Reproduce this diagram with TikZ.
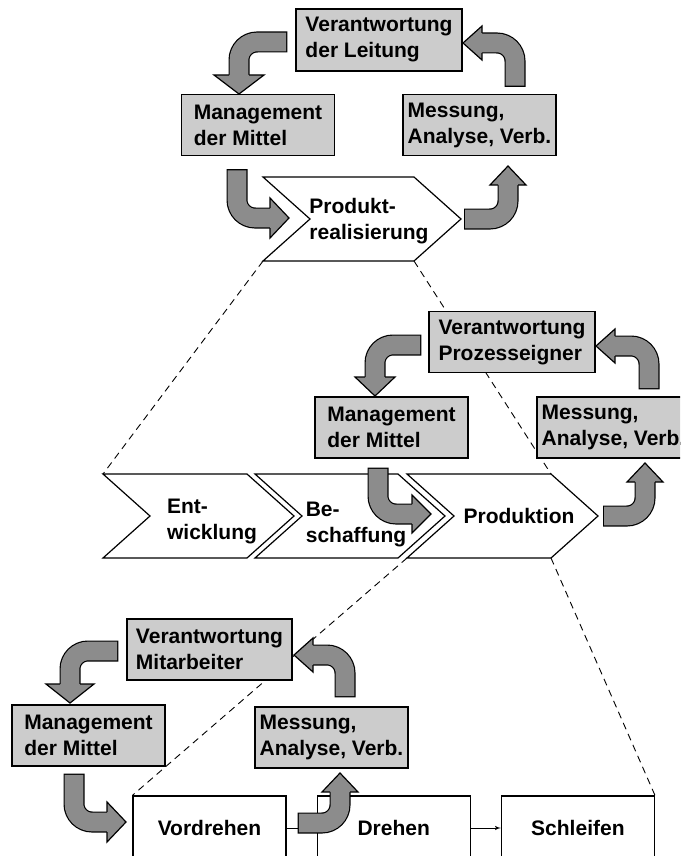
\documentclass[tikz,border=0pt]{standalone}
\usepackage{fontspec}
\setmainfont{Liberation Sans}
\usetikzlibrary{arrows}
\usetikzlibrary{positioning}
\usetikzlibrary{backgrounds}

\definecolor{boxgray}{gray}{0.8}
\definecolor{arrowgray}{gray}{0.55}

\tikzset{
  duty/.style={draw,line width=1.2pt,fill=boxgray,minimum width=153pt,minimum height=61pt,inner sep=0pt,align=left},
  work/.style={draw,line width=1.2pt,fill=white,minimum width=153pt,minimum height=64pt,inner sep=0pt},
  phase/.style={draw,line width=1.2pt,fill=white,line join=miter},
  zoomline/.style={line width=0.9pt,dash pattern=on 7pt off 5pt},
  flow/.style={draw=black,line width=21pt,rounded corners=18pt,
    postaction={draw=arrowgray,line width=18.6pt,shorten <=1.2pt}}
}

% chevron: name, left, top, width
\newcommand{\chevron}[4]{%
  \draw[phase] (#2,#3) coordinate (#1-nw) -- ++(#4,0) coordinate (#1-ne)
    -- ++(47,42) coordinate (#1-tip) -- ++(-47,42) coordinate (#1-se)
    -- ++(-#4,0) coordinate (#1-sw) -- ++(47,-42) -- cycle;}

% head of a block arrow: [half width]{base}{angle}
\newcommand{\flowhead}[3][19]{%
  \fill[arrowgray,shift={(#2)},rotate=#3] (0,-#1) -- (19,0) -- (0,#1) -- cycle;
  \draw[line width=1.2pt,shift={(#2)},rotate=#3] (0,-10) -- (0,-#1) -- (19,0) -- (0,#1) -- (0,10);}

\begin{document}
\begin{tikzpicture}[x=1pt,y=-1pt,>=latex',font=\fontsize{21}{26}\selectfont\bfseries]
  \useasboundingbox (0,0) rectangle (680,856);
  \clip (0,0) rectangle (680,856);

  % company level
  \node[duty,minimum width=166pt,minimum height=62pt] (lead) at (379,40) {Verantwortung\\der Leitung};
  \node[duty] (mgmtA) at (258,125) {Management\\der Mittel};
  \node[duty] (measA) at (479.5,125) {Messung,\\Analyse, Verb.};
  \chevron{real}{263}{177}{151}
  \node[align=left] (real) at (369,221) {Produkt-\\realisierung};

  % process level
  \node[duty,minimum width=166pt] (ownerB) at (512,342) {Verantwortung\\Prozesseigner};
  \node[duty] (mgmtB) at (391.5,427.5) {Management\\der Mittel};
  \node[duty] (measB) at (613.5,427.5) {Messung,\\Analyse, Verb.};
  \chevron{dev}{103}{474}{144}
  \chevron{buy}{255}{474}{143}
  \chevron{prod}{407}{474}{144}
  \node[align=left] (dev) at (212,521) {Ent-\\wicklung};
  \node[align=left] (buy) at (356,524) {Be-\\schaffung};
  \node (prod) at (519,516) {Produktion};

  % workplace level
  \node[duty,minimum width=165pt] (staffC) at (209.5,649.5) {Verantwortung\\Mitarbeiter};
  \node[duty] (mgmtC) at (88.5,735.5) {Management\\der Mittel};
  \node[duty] (measC) at (331.5,737.5) {Messung,\\Analyse, Verb.};
  \node[work] (vord) at (209.5,828) {Vordrehen};
  \node[work] (dreh) [right=30pt of vord] {Drehen};
  \node[work] (schl) [right=30pt of dreh] {Schleifen};
  \draw[->,line width=1pt] (vord) -- (dreh);
  \draw[->,line width=1pt] (dreh) -- (schl);

  \begin{scope}[on background layer]
    \draw[zoomline] (real-sw) -- (dev-nw);
    \draw[zoomline] (real-se) -- (prod-ne);
    \draw[zoomline] (prod-sw) -- (vord.north west);
    \draw[zoomline] (prod-se) -- (schl.north east);
  \end{scope}

  % control loops
  \coordinate (a1) at (239,75);
  \coordinate (a2) at (482,43);
  \coordinate (a3) at (270,218);
  \coordinate (a4) at (508,185);
  \draw[flow] ([shift={(-8,2)}]lead.west) -| (a1);
  \flowhead[25]{a1}{-90}
  \draw[flow] ([shift={(35.5,-7)}]measA.north) |- (a2);
  \flowhead[17]{a2}{180}
  \draw[flow] ([shift={(-21,13)}]mgmtA.south) |- (a3);
  \flowhead[20]{a3}{0}
  \draw[flow] ([xshift=3pt]real-tip) -| (a4);
  \flowhead[18]{a4}{90}

  \coordinate (m1) at (375,377);
  \coordinate (m2) at (615,346);
  \coordinate (m3) at (412,514);
  \coordinate (m4) at (645,482);
  \draw[flow] ([shift={(-7,3)}]ownerB.west) -| (m1);
  \flowhead[20]{m1}{-90}
  \draw[flow] ([shift={(35.5,-7)}]measB.north) |- (m2);
  \flowhead[17]{m2}{180}
  \draw[flow] ([shift={(-13.5,9)}]mgmtB.south) |- (m3);
  \flowhead[19]{m3}{0}
  \draw[flow] ([xshift=5pt]prod-tip) -| (m4);
  \flowhead[18]{m4}{90}

  \coordinate (b1) at (70,684);
  \coordinate (b2) at (107,822);
  \coordinate (b3) at (313,655);
  \coordinate (b4) at (340,792);
  \draw[flow] ([shift={(-8,1.5)}]staffC.west) -| (b1);
  \flowhead[24]{b1}{-90}
  \draw[flow] ([shift={(-14.5,7)}]mgmtC.south) |- (b2);
  \flowhead[20]{b2}{0}
  \draw[flow] ([shift={(13.5,-9)}]measC.north) |- (b3);
  \flowhead[17]{b3}{180}
  \draw[flow] ([shift={(11,-5)}]vord.east) -| (b4);
  \flowhead[18]{b4}{90}
\end{tikzpicture}
\end{document}
